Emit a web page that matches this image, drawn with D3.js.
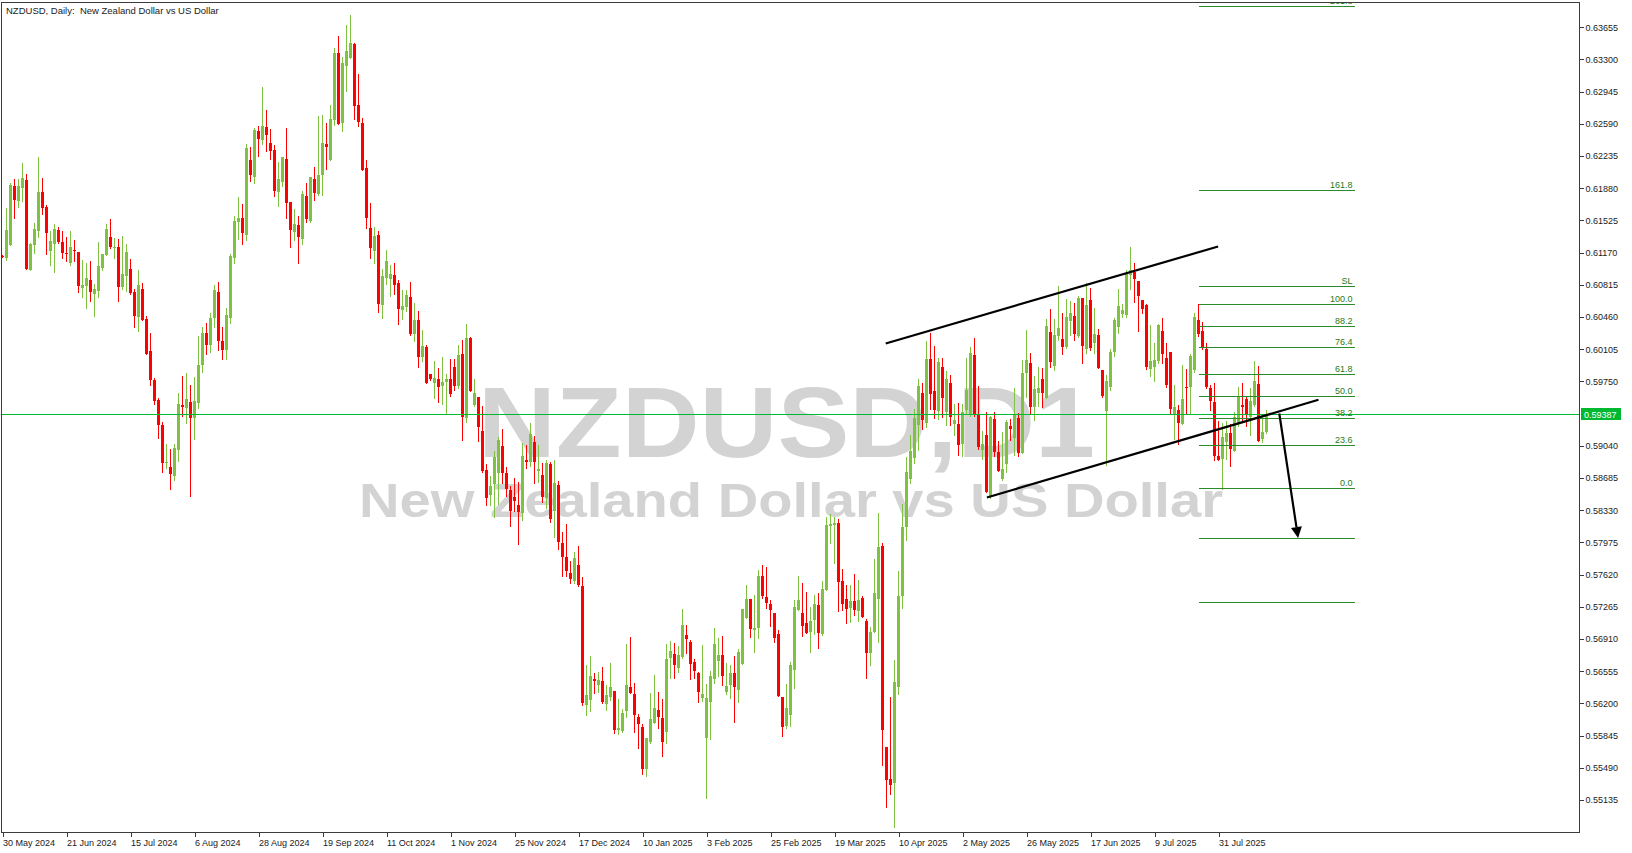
<!DOCTYPE html>
<html>
<head>
<meta charset="utf-8">
<script src="https://cdn.jsdelivr.net/npm/d3@7"></script>
<style>
  html, body { margin: 0; padding: 0; background: #ffffff; overflow: hidden; }
  svg { display: block; }
  text { font-family: "Liberation Sans", Arial, sans-serif; }
</style>
</head>
<body>
<svg id="chart" width="1632" height="853"></svg>
<script>
// ---------------- DATA ----------------
const openP = [
0.61135,0.61107,0.61254,0.61905,0.61740,0.61887,0.61971,0.60979,0.61254,0.61412,
0.61839,0.61677,0.61188,0.61269,0.61420,0.61287,0.61166,0.61060,0.61203,0.61177,
0.60784,0.60806,0.60869,0.60718,0.60751,0.61004,0.61144,0.61343,0.61225,0.61232,
0.60791,0.60913,0.60990,0.60736,0.60464,0.60769,0.60439,0.60086,0.59766,0.59546,
0.59270,0.58855,0.58807,0.58711,0.58998,0.59490,0.59461,0.59523,0.59351,0.59512,
0.59931,0.60280,0.60150,0.60450,0.60737,0.60200,0.60100,0.60450,0.61115,0.61509,
0.61549,0.61365,0.62192,0.62009,0.62516,0.62413,0.62556,0.62380,0.62303,0.61840,
0.61950,0.62203,0.61729,0.61398,0.61476,0.61321,0.61795,0.61520,0.61983,0.61817,
0.62031,0.62369,0.62192,0.62633,0.63372,0.62600,0.63229,0.63317,0.63471,0.62799,
0.62600,0.62104,0.61443,0.61189,0.61365,0.60597,0.60891,0.60880,0.60924,0.60836,
0.60542,0.60575,0.60681,0.60277,0.60428,0.60024,0.60130,0.59832,0.59737,0.59777,
0.59704,0.59744,0.59777,0.59910,0.59704,0.60053,0.59351,0.60229,0.59494,0.59579,
0.59204,0.58774,0.58502,0.58623,0.58745,0.59039,0.58745,0.58557,0.58480,0.58392,
0.58304,0.58884,0.58866,0.59083,0.58767,0.58723,0.58469,0.58844,0.58326,0.58612,
0.57973,0.57818,0.57642,0.57554,0.57730,0.57495,0.56183,0.56239,0.56470,0.56408,
0.56448,0.56194,0.56272,0.56338,0.55908,0.55897,0.56117,0.56382,0.56305,0.56051,
0.55941,0.55478,0.55775,0.55985,0.56128,0.56040,0.55886,0.56702,0.56746,0.56591,
0.56713,0.56955,0.56878,0.56657,0.56536,0.56261,0.55819,0.56216,0.56470,0.56668,
0.56735,0.56327,0.56404,0.56536,0.56349,0.56635,0.57143,0.57352,0.57010,0.57032,
0.57606,0.57374,0.57297,0.57198,0.56966,0.56272,0.55952,0.56073,0.56569,0.57231,
0.57198,0.57087,0.56988,0.57121,0.57286,0.56966,0.57451,0.58157,0.58168,0.58190,
0.57550,0.57352,0.57253,0.57330,0.57220,0.57363,0.57110,0.56757,0.56988,0.57352,
0.57936,0.55720,0.55371,0.55327,0.56386,0.57385,0.58150,0.58679,0.58910,0.59270,
0.59623,0.59292,0.59998,0.59645,0.59425,0.59910,0.59414,0.59733,0.59281,0.59281,
0.59061,0.59436,0.59392,0.60042,0.59392,0.58995,0.59160,0.58491,0.59337,0.58973,
0.58675,0.58840,0.59259,0.59127,0.59348,0.58962,0.59844,0.59954,0.59469,0.59623,
0.59778,0.59568,0.60296,0.59921,0.60252,0.60219,0.60130,0.60417,0.60472,0.60252,
0.60671,0.60108,0.60649,0.60174,0.60263,0.59877,0.59425,0.59693,0.60070,0.60355,
0.60494,0.60486,0.60922,0.60962,0.60863,0.60653,0.60593,0.59891,0.59911,0.59971,
0.60308,0.60010,0.60070,0.59396,0.59435,0.59277,0.59693,0.59693,0.59872,0.60427,
0.60308,0.60109,0.59673,0.59523,0.58928,0.58900,0.59079,0.59178,0.58979,0.59297,
0.59487,0.59554,0.59356,0.59495,0.59721,0.59110,0.59198
];
const highP = [
0.61140,0.61659,0.61942,0.61978,0.61978,0.62162,0.62037,0.61276,0.61493,0.62225,
0.61993,0.61695,0.61412,0.61486,0.61449,0.61405,0.61343,0.61412,0.61310,0.61177,
0.61089,0.61056,0.61078,0.60824,0.61287,0.61155,0.61486,0.61541,0.61332,0.61324,
0.61354,0.61265,0.61100,0.60769,0.60979,0.60835,0.60472,0.60284,0.59788,0.59568,
0.59303,0.59060,0.59005,0.59060,0.59623,0.59810,0.59843,0.59711,0.59799,0.60251,
0.60350,0.60400,0.60500,0.60814,0.60847,0.60350,0.60564,0.61156,0.61575,0.61784,
0.61707,0.62369,0.62336,0.62545,0.62571,0.62997,0.62744,0.62534,0.62358,0.62170,
0.62225,0.62545,0.61729,0.61652,0.61575,0.61851,0.61939,0.62005,0.62115,0.62677,
0.62688,0.62600,0.62799,0.63427,0.63559,0.63328,0.63681,0.63791,0.63482,0.63140,
0.62655,0.62192,0.61718,0.61454,0.61409,0.60990,0.61200,0.61034,0.61056,0.60869,
0.60759,0.60759,0.60847,0.60615,0.60527,0.60317,0.60152,0.59832,0.59976,0.59898,
0.60020,0.59832,0.59998,0.59998,0.60152,0.60207,0.60384,0.60240,0.59777,0.59579,
0.59480,0.58844,0.58712,0.58987,0.59141,0.59226,0.58811,0.58601,0.58690,0.58646,
0.59075,0.59053,0.59292,0.59149,0.59053,0.58855,0.58888,0.58866,0.58888,0.58657,
0.58094,0.58182,0.57774,0.57874,0.57940,0.57595,0.56624,0.56724,0.56536,0.56547,
0.56602,0.56404,0.56646,0.56338,0.56250,0.56139,0.56856,0.56933,0.56426,0.56084,
0.55974,0.55819,0.56316,0.56514,0.56327,0.56250,0.56856,0.56889,0.56867,0.56834,
0.57242,0.57065,0.56900,0.56691,0.56547,0.56845,0.56415,0.56558,0.57032,0.56922,
0.56944,0.56646,0.56624,0.56724,0.56801,0.57242,0.57506,0.57352,0.57396,0.57672,
0.57727,0.57705,0.57341,0.57198,0.57010,0.56272,0.56415,0.56657,0.57341,0.57606,
0.57528,0.57429,0.57264,0.57396,0.57418,0.57550,0.58250,0.58290,0.58260,0.58230,
0.57683,0.57506,0.57506,0.57628,0.57562,0.57385,0.57132,0.57043,0.57793,0.58300,
0.57969,0.55720,0.56272,0.56680,0.57661,0.58399,0.58914,0.59160,0.59447,0.59778,
0.59733,0.60196,0.60285,0.60141,0.60009,0.60009,0.59866,0.59822,0.59502,0.59513,
0.59502,0.60009,0.60130,0.60230,0.59700,0.59204,0.59414,0.59370,0.59414,0.59094,
0.59193,0.59326,0.59337,0.59678,0.59403,0.59987,0.60318,0.60064,0.59811,0.59910,
0.59899,0.60439,0.60549,0.60439,0.60803,0.60505,0.60660,0.60637,0.60615,0.60693,
0.60671,0.60836,0.60781,0.60560,0.60329,0.59877,0.59822,0.60109,0.60446,0.60764,
0.60605,0.60982,0.61232,0.61061,0.60863,0.60653,0.60605,0.60367,0.60169,0.60387,
0.60454,0.60169,0.60070,0.59713,0.59495,0.59931,0.59891,0.60050,0.60506,0.60605,
0.60407,0.60169,0.59713,0.59733,0.59316,0.59297,0.59316,0.59277,0.59416,0.59693,
0.59733,0.59594,0.59673,0.59971,0.59919,0.59396,0.59435
];
const lowP = [
0.61120,0.61089,0.61254,0.61552,0.61677,0.61740,0.60990,0.60979,0.61170,0.61346,
0.61596,0.61155,0.61038,0.60960,0.61276,0.61115,0.61082,0.61030,0.61082,0.60740,
0.60685,0.60564,0.60637,0.60475,0.60685,0.60979,0.61144,0.61221,0.61115,0.60641,
0.60773,0.60751,0.60718,0.60354,0.60310,0.60431,0.60049,0.59715,0.59505,0.59130,
0.58755,0.58800,0.58568,0.58667,0.58877,0.59373,0.59296,0.58491,0.59119,0.59461,
0.59850,0.60050,0.60080,0.60350,0.60100,0.60000,0.60000,0.60400,0.61060,0.61321,
0.61266,0.61310,0.61961,0.61939,0.62236,0.62369,0.62291,0.62203,0.61795,0.61685,
0.61906,0.61553,0.61233,0.61310,0.61057,0.61266,0.61509,0.61509,0.61751,0.61806,
0.61806,0.62093,0.62192,0.62578,0.62589,0.62512,0.62953,0.63317,0.62644,0.62567,
0.62082,0.61443,0.61112,0.61057,0.60516,0.60454,0.60825,0.60692,0.60714,0.60387,
0.60443,0.60531,0.60266,0.60200,0.59913,0.59979,0.59737,0.59766,0.59571,0.59527,
0.59505,0.59395,0.59594,0.59660,0.59682,0.59108,0.59307,0.59649,0.59483,0.59097,
0.58756,0.58392,0.58392,0.58260,0.58403,0.58635,0.58491,0.58160,0.58326,0.57962,
0.58226,0.58800,0.58822,0.58635,0.58646,0.58425,0.58359,0.58204,0.58039,0.57907,
0.57609,0.57609,0.57532,0.57532,0.57499,0.56180,0.56073,0.56117,0.56316,0.56327,
0.56205,0.56128,0.56239,0.55875,0.55864,0.55886,0.56051,0.56316,0.55886,0.55709,
0.55423,0.55401,0.55764,0.55985,0.55930,0.55621,0.55764,0.56481,0.56481,0.56547,
0.56702,0.56757,0.56470,0.56481,0.56216,0.56227,0.55162,0.55809,0.56426,0.56503,
0.56404,0.56305,0.56261,0.55996,0.56216,0.56635,0.57143,0.56933,0.56768,0.56922,
0.57363,0.57253,0.57054,0.56878,0.56283,0.55842,0.55930,0.55952,0.56371,0.57231,
0.56944,0.56977,0.56768,0.56966,0.56812,0.56955,0.57451,0.57969,0.57749,0.57220,
0.57231,0.57087,0.57098,0.57176,0.57110,0.57154,0.56481,0.56624,0.56988,0.56878,
0.55522,0.55063,0.55206,0.54842,0.56300,0.57250,0.58000,0.58627,0.58850,0.58995,
0.59226,0.59248,0.59447,0.59348,0.59337,0.59359,0.59270,0.59270,0.59160,0.58940,
0.58929,0.59392,0.59370,0.59370,0.59006,0.58896,0.58535,0.58469,0.58929,0.58763,
0.58664,0.58752,0.59105,0.58940,0.58929,0.58962,0.59579,0.59392,0.59326,0.59480,
0.59469,0.59568,0.59910,0.59877,0.60208,0.60053,0.60119,0.60263,0.60208,0.60241,
0.59954,0.60064,0.60097,0.60064,0.59899,0.59579,0.58829,0.59653,0.60030,0.60288,
0.60466,0.60466,0.60764,0.60625,0.60308,0.60506,0.59891,0.59812,0.59753,0.59951,
0.59951,0.59693,0.59396,0.59118,0.59059,0.59277,0.59396,0.59396,0.59852,0.60248,
0.60109,0.59673,0.59435,0.58880,0.58880,0.58563,0.58900,0.58821,0.58979,0.59257,
0.59316,0.59257,0.59158,0.59475,0.59098,0.59079,0.59178
];
const closeP = [
0.61125,0.61420,0.61916,0.61751,0.61905,0.61989,0.60990,0.61269,0.61431,0.61839,
0.61662,0.61390,0.61298,0.61431,0.61287,0.61170,0.61155,0.61232,0.61192,0.60806,
0.60813,0.60891,0.60740,0.60769,0.61023,0.61155,0.61431,0.61232,0.61236,0.60795,
0.60935,0.61177,0.60725,0.60475,0.60813,0.60431,0.60056,0.59762,0.59538,0.59274,
0.58855,0.58866,0.58733,0.59016,0.59501,0.59472,0.59557,0.59351,0.59534,0.59931,
0.60280,0.60150,0.60450,0.60759,0.60200,0.60100,0.60480,0.61134,0.61520,0.61549,
0.61391,0.62325,0.62027,0.62523,0.62424,0.62567,0.62468,0.62295,0.61851,0.61983,
0.62225,0.61718,0.61420,0.61487,0.61343,0.61817,0.61542,0.62005,0.61828,0.62027,
0.62380,0.62336,0.62644,0.63372,0.62589,0.63262,0.63394,0.63482,0.62788,0.62611,
0.62082,0.61553,0.61222,0.61354,0.60604,0.60913,0.61078,0.60935,0.60817,0.60553,
0.60586,0.60703,0.60277,0.60428,0.60024,0.60141,0.59737,0.59774,0.59788,0.59693,
0.59744,0.59777,0.59608,0.59704,0.60042,0.59362,0.60229,0.59649,0.59623,0.59252,
0.58767,0.58469,0.58601,0.58921,0.59105,0.58745,0.58568,0.58326,0.58436,0.58315,
0.58928,0.58866,0.59171,0.58866,0.58789,0.58480,0.58855,0.58237,0.58635,0.57984,
0.57818,0.57664,0.57576,0.57807,0.57510,0.56209,0.56294,0.56503,0.56448,0.56459,
0.56216,0.56294,0.56382,0.55908,0.55930,0.56095,0.56404,0.56316,0.56073,0.55974,
0.55478,0.55819,0.56029,0.56150,0.56051,0.55775,0.56691,0.56779,0.56624,0.56735,
0.57065,0.56911,0.56635,0.56558,0.56327,0.56305,0.56261,0.56503,0.56856,0.56735,
0.56503,0.56393,0.56536,0.56382,0.56768,0.57242,0.57352,0.57021,0.57036,0.57606,
0.57385,0.57308,0.57231,0.56922,0.56283,0.55941,0.56150,0.56624,0.57264,0.57341,
0.57054,0.56977,0.57110,0.57297,0.56977,0.57462,0.58168,0.58179,0.58190,0.57539,
0.57297,0.57242,0.57330,0.57231,0.57341,0.57154,0.56757,0.56988,0.57418,0.57925,
0.55908,0.55360,0.55305,0.56437,0.57385,0.58150,0.58749,0.58984,0.59348,0.59700,
0.59326,0.59998,0.59612,0.59436,0.59965,0.59568,0.59778,0.59359,0.59326,0.59050,
0.59414,0.59656,0.60064,0.59392,0.59028,0.59061,0.58535,0.59359,0.58973,0.58763,
0.58785,0.59303,0.59226,0.59392,0.58958,0.59844,0.59987,0.59469,0.59667,0.59678,
0.59623,0.60362,0.59965,0.60263,0.60340,0.60130,0.60461,0.60505,0.60274,0.60671,
0.60141,0.60593,0.60119,0.60274,0.59899,0.59590,0.59756,0.60070,0.60427,0.60585,
0.60534,0.60942,0.60982,0.60883,0.60696,0.60546,0.59911,0.59971,0.59991,0.60367,
0.60050,0.59713,0.59443,0.59463,0.59297,0.59562,0.59681,0.60030,0.60466,0.60276,
0.60129,0.59693,0.59535,0.58928,0.58880,0.59138,0.59178,0.59007,0.59356,0.59594,
0.59467,0.59376,0.59535,0.59753,0.59098,0.59190,0.59387
];

const xTickLabels = ["30 May 2024","21 Jun 2024","15 Jul 2024","6 Aug 2024","28 Aug 2024",
  "19 Sep 2024","11 Oct 2024","1 Nov 2024","25 Nov 2024","17 Dec 2024","10 Jan 2025",
  "3 Feb 2025","25 Feb 2025","19 Mar 2025","10 Apr 2025","2 May 2025","26 May 2025",
  "17 Jun 2025","9 Jul 2025","31 Jul 2025"];
const barsPerXLabel = 16;
const yTicks = [0.63655,0.63300,0.62945,0.62590,0.62235,0.61880,0.61525,0.61170,0.60815,
  0.60460,0.60105,0.59750,0.59040,0.58685,0.58330,0.57975,0.57620,0.57265,0.56910,
  0.56555,0.56200,0.55845,0.55490,0.55135];
const currentPrice = 0.59387;

const titleText = "NZDUSD, Daily:  New Zealand Dollar vs US Dollar";
const watermarkMain = "NZDUSD,D1";
const watermarkSub = "New Zealand Dollar vs US Dollar";

// Fibonacci tool (0 = swing low, 100 = swing high)
const fibLow = 0.58575, fibHigh = 0.60605;
const fibLevels = [261.8, 161.8, 110, 100, 88.2, 76.4, 61.8, 50, 38.2, 23.6, 0, -27.2, -61.8];
const fibLabels = ["261.8","161.8","SL","100.0","88.2","76.4","61.8","50.0","38.2","23.6","0.0","",""];
const fibBars = [299, 338];

// Trend channel and projection arrow: [bar index, price]
const channelTop = [[220.8, 0.60169], [303.9, 0.61238]];
const channelBottom = [[246.1, 0.58470], [329.0, 0.59548]];
const projectionArrow = [[319.2, 0.59397], [323.9, 0.58024]];

// ---------------- DRAWING ----------------
const plotLeft = 1, plotTop = 2, plotRight = 1579, plotBottom = 832;
const bull = "#7fc241", bear = "#ff0000", fibColor = "#2b8a2b", fibText = "#1e7a1e", bidColor = "#00b832";
const axisText = "#1a1a1a";

const svg = d3.select("#chart");
const x = d3.scaleLinear().domain([0, 1]).range([2.5, 6.5]);
const y = d3.scaleLinear().domain([0.55135, 0.63655]).range([800, 27.3]);

svg.append("defs").append("clipPath").attr("id", "plotClip")
  .append("rect").attr("x", plotLeft + 0.5).attr("y", plotTop + 0.5)
  .attr("width", plotRight - plotLeft).attr("height", plotBottom - plotTop);

const plot = svg.append("g").attr("clip-path", "url(#plotClip)");

// watermark
plot.append("text").text(watermarkMain)
  .attr("x", 478).attr("y", 457)
  .attr("textLength", 617).attr("lengthAdjust", "spacingAndGlyphs")
  .style("font-size", "101px").style("font-weight", "bold").attr("fill", "#d3d3d3");
plot.append("text").text(watermarkSub)
  .attr("x", 359).attr("y", 517)
  .attr("textLength", 864).attr("lengthAdjust", "spacingAndGlyphs")
  .style("font-size", "49px").style("font-weight", "bold").attr("fill", "#d3d3d3");

// candles
const bars = openP.map((o, i) => ({i, o, h: highP[i], l: lowP[i], c: closeP[i]}));
const cg = plot.append("g").attr("shape-rendering", "crispEdges");
cg.selectAll("rect.wick").data(bars).join("rect").attr("class", "wick")
  .attr("x", d => x(d.i) - 0.5).attr("width", 1)
  .attr("y", d => Math.round(y(d.h)))
  .attr("height", d => Math.max(1, Math.round(y(d.l)) - Math.round(y(d.h)) + 1))
  .attr("fill", d => d.c >= d.o ? bull : bear);
cg.selectAll("rect.body").data(bars).join("rect").attr("class", "body")
  .attr("x", d => x(d.i) - 1.5).attr("width", 3)
  .attr("y", d => Math.round(y(Math.max(d.o, d.c))))
  .attr("height", d => Math.max(1, Math.round(y(Math.min(d.o, d.c))) - Math.round(y(Math.max(d.o, d.c)))))
  .attr("fill", d => d.c >= d.o ? bull : bear);

// current price line
const yb = Math.round(y(currentPrice)) + 0.5;
plot.append("line").attr("x1", plotLeft).attr("x2", plotRight).attr("y1", yb).attr("y2", yb)
  .attr("stroke", bidColor).attr("stroke-width", 1).attr("shape-rendering", "crispEdges");

// fibonacci levels
const fg = plot.append("g");
fibLevels.forEach((lv, k) => {
  const p = fibLow + lv / 100 * (fibHigh - fibLow);
  const yy = Math.round(y(p)) + 0.5;
  fg.append("line").attr("x1", x(fibBars[0])).attr("x2", x(fibBars[1]))
    .attr("y1", yy).attr("y2", yy).attr("stroke", fibColor).attr("stroke-width", 1)
    .attr("shape-rendering", "crispEdges");
  if (fibLabels[k]) {
    fg.append("text").text(fibLabels[k]).attr("x", x(fibBars[1]) - 2).attr("y", yy - 3)
      .attr("text-anchor", "end").style("font-size", "9px").attr("fill", fibText);
  }
});

// channel lines
const line = d3.line().x(d => x(d[0])).y(d => y(d[1]));
[channelTop, channelBottom].forEach(seg => {
  plot.append("path").attr("d", line(seg)).attr("fill", "none")
    .attr("stroke", "#000").attr("stroke-width", 2.2);
});

// projection arrow
const a0 = [x(projectionArrow[0][0]), y(projectionArrow[0][1])];
const a1 = [x(projectionArrow[1][0]), y(projectionArrow[1][1])];
const ang = Math.atan2(a1[1] - a0[1], a1[0] - a0[0]);
const headLen = 11, headHalf = 5.5;
const base = [a1[0] - headLen * Math.cos(ang), a1[1] - headLen * Math.sin(ang)];
plot.append("line").attr("x1", a0[0]).attr("y1", a0[1]).attr("x2", base[0]).attr("y2", base[1])
  .attr("stroke", "#000").attr("stroke-width", 2.2);
plot.append("path").attr("d", d3.line()([
  a1,
  [base[0] + headHalf * Math.sin(ang), base[1] - headHalf * Math.cos(ang)],
  [base[0] - headHalf * Math.sin(ang), base[1] + headHalf * Math.cos(ang)]
]) + "Z").attr("fill", "#000");

// frame
svg.append("rect").attr("x", plotLeft + 0.5).attr("y", plotTop + 0.5)
  .attr("width", plotRight - plotLeft).attr("height", plotBottom - plotTop)
  .attr("fill", "none").attr("stroke", "#3c3c3c").attr("stroke-width", 1)
  .attr("shape-rendering", "crispEdges");

// right price axis
const yAxis = d3.axisRight(y).tickValues(yTicks).tickFormat(d3.format(".5f"))
  .tickSize(4).tickPadding(2);
const yg = svg.append("g").attr("transform", `translate(${plotRight + 0.5},0)`).call(yAxis);
yg.select(".domain").remove();
yg.selectAll(".tick line").attr("stroke", "#3c3c3c").attr("shape-rendering", "crispEdges");
yg.selectAll(".tick text").attr("fill", axisText).style("font-size", "9px")
  .style("font-family", "'Liberation Sans', Arial, sans-serif");

// current price label
const pl = svg.append("g");
pl.append("rect").attr("x", plotRight + 2).attr("y", yb - 6.5).attr("width", 40).attr("height", 12)
  .attr("fill", bidColor);
pl.append("text").text(d3.format(".5f")(currentPrice)).attr("x", plotRight + 5).attr("y", yb + 3.5)
  .style("font-size", "9px").attr("fill", "#fff");

// bottom time axis
const xIdx = xTickLabels.map((_, k) => k * barsPerXLabel);
const xAxis = d3.axisBottom(x).tickValues(xIdx).tickFormat((d, k) => xTickLabels[k])
  .tickSize(4).tickPadding(3);
const xg = svg.append("g").attr("transform", `translate(0,${plotBottom + 0.5})`).call(xAxis);
xg.select(".domain").remove();
xg.selectAll(".tick line").attr("stroke", "#3c3c3c").attr("shape-rendering", "crispEdges");
xg.selectAll(".tick text").attr("text-anchor", "start").attr("x", 0).attr("fill", axisText)
  .style("font-size", "9px").style("font-family", "'Liberation Sans', Arial, sans-serif");

// title
svg.append("text").text(titleText).attr("x", 6).attr("y", 14)
  .style("font-size", "9.5px").style("white-space", "pre").attr("xml:space", "preserve")
  .attr("fill", axisText);
</script>
</body>
</html>
